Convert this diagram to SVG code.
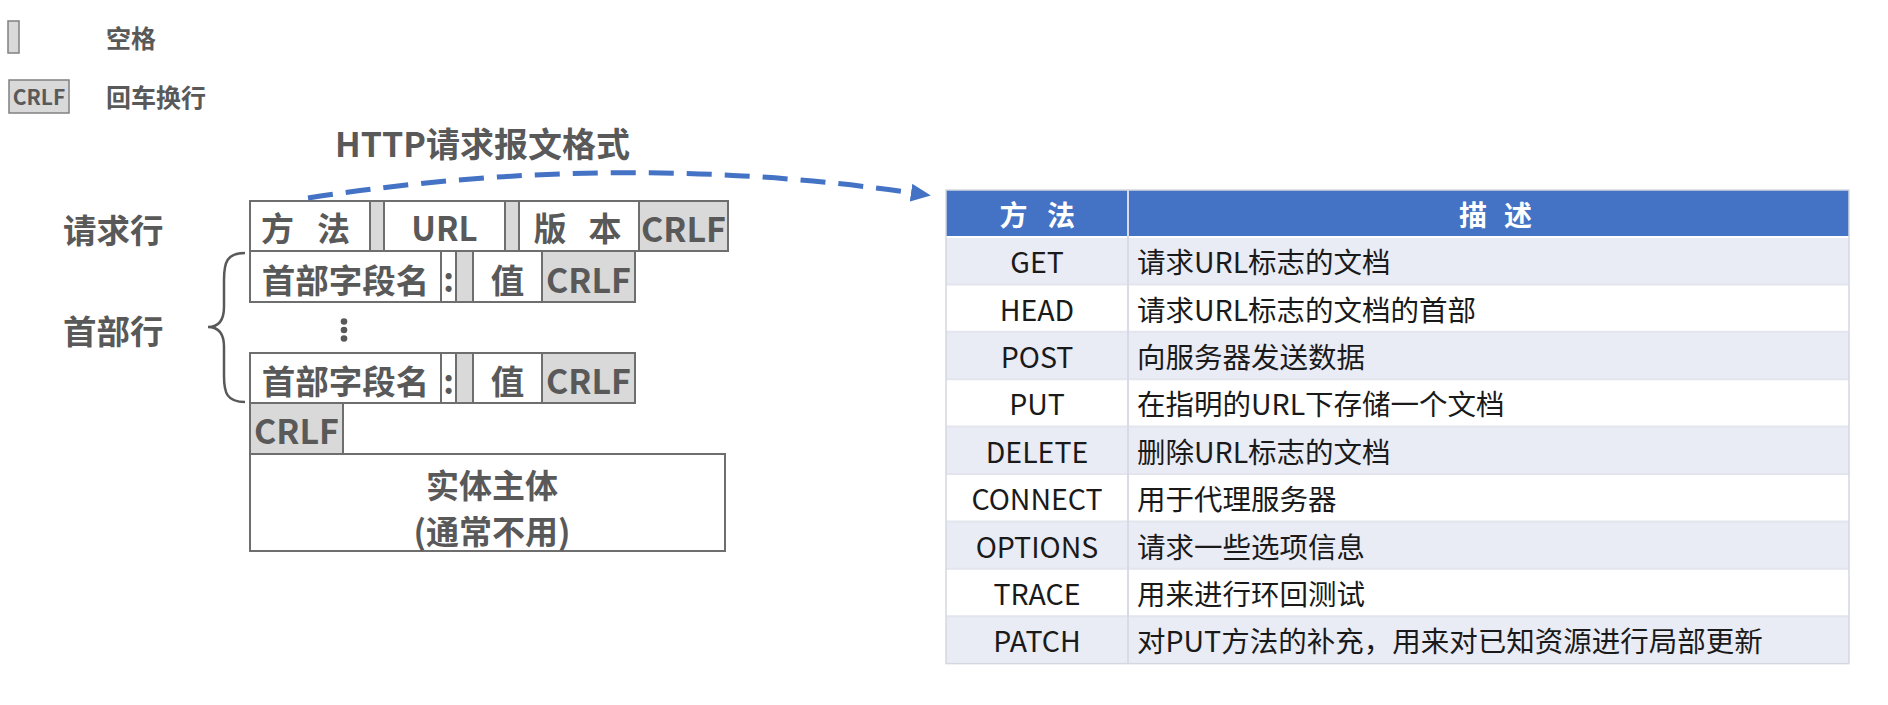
<svg xmlns="http://www.w3.org/2000/svg" width="1888" height="705" viewBox="0 0 1888 705">
<style>
.box{fill:#ffffff;stroke:#6e6e6e;stroke-width:2}
.gray{fill:#d9d9d9;stroke:#6e6e6e;stroke-width:2}
.t{font-family:"Noto Sans CJK SC","Noto Sans",sans-serif;font-weight:bold;fill:#595959;font-size:33px;text-anchor:middle;dominant-baseline:central}
.lbl{font-family:"Noto Sans CJK SC","Noto Sans",sans-serif;font-weight:bold;fill:#595959;font-size:33.5px;dominant-baseline:central}
.leg{font-family:"Noto Sans CJK SC","Noto Sans",sans-serif;font-weight:bold;fill:#595959;font-size:25px;dominant-baseline:central}
.th{font-family:"Noto Sans CJK SC","Noto Sans",sans-serif;font-weight:bold;fill:#ffffff;font-size:28px;text-anchor:middle;dominant-baseline:central}
.m{font-family:"Noto Sans CJK SC","Noto Sans",sans-serif;fill:#1a1a1a;font-size:28.5px;text-anchor:middle;dominant-baseline:central}
.d{font-family:"Noto Sans CJK SC","Noto Sans",sans-serif;fill:#1a1a1a;font-size:28.5px;dominant-baseline:central}
.sh{fill:#e9ebf5}
.wh{fill:#ffffff}
.sep{stroke:#e3e5ee;stroke-width:2}
</style>
<defs>
<marker id="ah" markerWidth="20" markerHeight="18" refX="2" refY="9" orient="auto" markerUnits="userSpaceOnUse">
<path d="M0,0 L20,9 L0,18 z" fill="#4472c4"/>
</marker>
</defs>
<rect width="1888" height="705" fill="#ffffff"/>

<g id="legend">
<rect class="gray" x="8" y="21" width="11" height="32" style="stroke-width:1.5;stroke:#808080"/>
<text class="leg" x="106" y="37">空格</text>
<rect class="gray" x="9" y="80" width="60" height="33" style="stroke-width:1.5;stroke:#808080"/>
<text class="t" x="39" y="96" style="font-size:21px">CRLF</text>
<text class="leg" x="106" y="96">回车换行</text>
</g>

<g id="title">
<text class="lbl" x="335" y="142" style="font-size:34px">HTTP请求报文格式</text>
</g>

<g id="label-request"><text class="lbl" x="63" y="228">请求行</text></g>
<g id="label-header"><text class="lbl" x="63" y="329">首部行</text></g>

<g id="request-line">
<rect class="box" x="250" y="201" width="120" height="50"/>
<text class="t" x="277.5 333.5" y="227">方法</text>
<rect class="gray" x="370" y="201" width="14" height="50"/>
<rect class="box" x="384" y="201" width="121" height="50"/>
<text class="t" x="444.5" y="227">URL</text>
<rect class="gray" x="505" y="201" width="14" height="50"/>
<rect class="box" x="519" y="201" width="120" height="50"/>
<text class="t" x="550 605" y="227">版本</text>
<rect class="gray" x="639" y="201" width="89" height="50"/>
<text class="t" x="683.5" y="227" style="font-size:34px">CRLF</text>
</g>

<g id="header-line-1">
<rect class="box" x="250" y="251" width="191" height="51"/>
<text class="t" x="345.5" y="278" style="font-size:33.5px">首部字段名</text>
<rect class="box" x="441" y="251" width="15" height="51"/>
<text class="t" x="448.5" y="278">:</text>
<rect class="gray" x="456" y="251" width="17" height="51"/>
<rect class="box" x="473" y="251" width="69" height="51"/>
<text class="t" x="507.5" y="278" style="font-size:33.5px">值</text>
<rect class="gray" x="542" y="251" width="93" height="51"/>
<text class="t" x="588.5" y="278" style="font-size:34px">CRLF</text>
</g>

<g id="ellipsis">
<circle cx="344" cy="321.5" r="3.3" fill="#595959"/>
<circle cx="344" cy="330" r="3.3" fill="#595959"/>
<circle cx="344" cy="338.5" r="3.3" fill="#595959"/>
</g>

<g id="header-line-2">
<rect class="box" x="250" y="353" width="191" height="50"/>
<text class="t" x="345.5" y="379.5" style="font-size:33.5px">首部字段名</text>
<rect class="box" x="441" y="353" width="15" height="50"/>
<text class="t" x="448.5" y="379.5">:</text>
<rect class="gray" x="456" y="353" width="17" height="50"/>
<rect class="box" x="473" y="353" width="69" height="50"/>
<text class="t" x="507.5" y="379.5" style="font-size:33.5px">值</text>
<rect class="gray" x="542" y="353" width="93" height="50"/>
<text class="t" x="588.5" y="379.5" style="font-size:34px">CRLF</text>
</g>

<g id="blank-line">
<rect class="gray" x="250" y="403" width="93" height="51"/>
<text class="t" x="296.5" y="429.5" style="font-size:34px">CRLF</text>
</g>

<g id="entity-body">
<rect class="box" x="250" y="454" width="475" height="97"/>
<text class="t" x="492" y="484" style="font-size:33px">实体主体</text>
<text class="t" x="492" y="530" style="font-size:33px">(通常不用)</text>
</g>

<g id="brace">
<path d="M245,253 C227,253 224,262 224,280 L224,307 C224,320 219,327 208,327 C219,327 224,334 224,347 L224,376 C224,393 227,402 245,402" fill="none" stroke="#595959" stroke-width="2.5"/>
</g>

<g id="connectors">
<path d="M308,198 Q618,150 913,193" fill="none" stroke="#4472c4" stroke-width="5" stroke-dasharray="25,13" marker-end="url(#ah)"/>
</g>

<g id="methods-table">
<rect x="946" y="190" width="903" height="47" fill="#4472c4"/>
<rect class="sh" x="946" y="237" width="903" height="47.4"/>
<rect class="wh" x="946" y="284.4" width="903" height="47.4"/>
<rect class="sh" x="946" y="331.8" width="903" height="47.4"/>
<rect class="wh" x="946" y="379.2" width="903" height="47.4"/>
<rect class="sh" x="946" y="426.6" width="903" height="47.4"/>
<rect class="wh" x="946" y="474" width="903" height="47.4"/>
<rect class="sh" x="946" y="521.4" width="903" height="47.4"/>
<rect class="wh" x="946" y="568.8" width="903" height="47.4"/>
<rect class="sh" x="946" y="616.2" width="903" height="47.4"/>
<g class="sep">
<line x1="946" y1="237" x2="1849" y2="237" stroke="#ffffff"/>
<line x1="946" y1="284.4" x2="1849" y2="284.4"/>
<line x1="946" y1="331.8" x2="1849" y2="331.8"/>
<line x1="946" y1="379.2" x2="1849" y2="379.2"/>
<line x1="946" y1="426.6" x2="1849" y2="426.6"/>
<line x1="946" y1="474" x2="1849" y2="474"/>
<line x1="946" y1="521.4" x2="1849" y2="521.4"/>
<line x1="946" y1="568.8" x2="1849" y2="568.8"/>
<line x1="946" y1="616.2" x2="1849" y2="616.2"/>
<line x1="1128" y1="190" x2="1128" y2="663.6" stroke="#d8dbe6"/>
</g>
<rect x="946" y="190" width="903" height="473.6" fill="none" stroke="#d4d7e0" stroke-width="1.5"/>
<text class="th" x="1013.5 1061" y="213.5">方法</text>
<text class="th" x="1473 1518" y="213.5">描述</text>
<text class="m" x="1037" y="260.7">GET</text>
<text class="d" x="1137" y="260.7">请求URL标志的文档</text>
<text class="m" x="1037" y="308.1">HEAD</text>
<text class="d" x="1137" y="308.1">请求URL标志的文档的首部</text>
<text class="m" x="1037" y="355.5">POST</text>
<text class="d" x="1137" y="355.5">向服务器发送数据</text>
<text class="m" x="1037" y="402.9">PUT</text>
<text class="d" x="1137" y="402.9">在指明的URL下存储一个文档</text>
<text class="m" x="1037" y="450.3">DELETE</text>
<text class="d" x="1137" y="450.3">删除URL标志的文档</text>
<text class="m" x="1037" y="497.7">CONNECT</text>
<text class="d" x="1137" y="497.7">用于代理服务器</text>
<text class="m" x="1037" y="545.1">OPTIONS</text>
<text class="d" x="1137" y="545.1">请求一些选项信息</text>
<text class="m" x="1037" y="592.5">TRACE</text>
<text class="d" x="1137" y="592.5">用来进行环回测试</text>
<text class="m" x="1037" y="639.9">PATCH</text>
<text class="d" x="1137" y="639.9">对PUT方法的补充，用来对已知资源进行局部更新</text>
</g>
</svg>
